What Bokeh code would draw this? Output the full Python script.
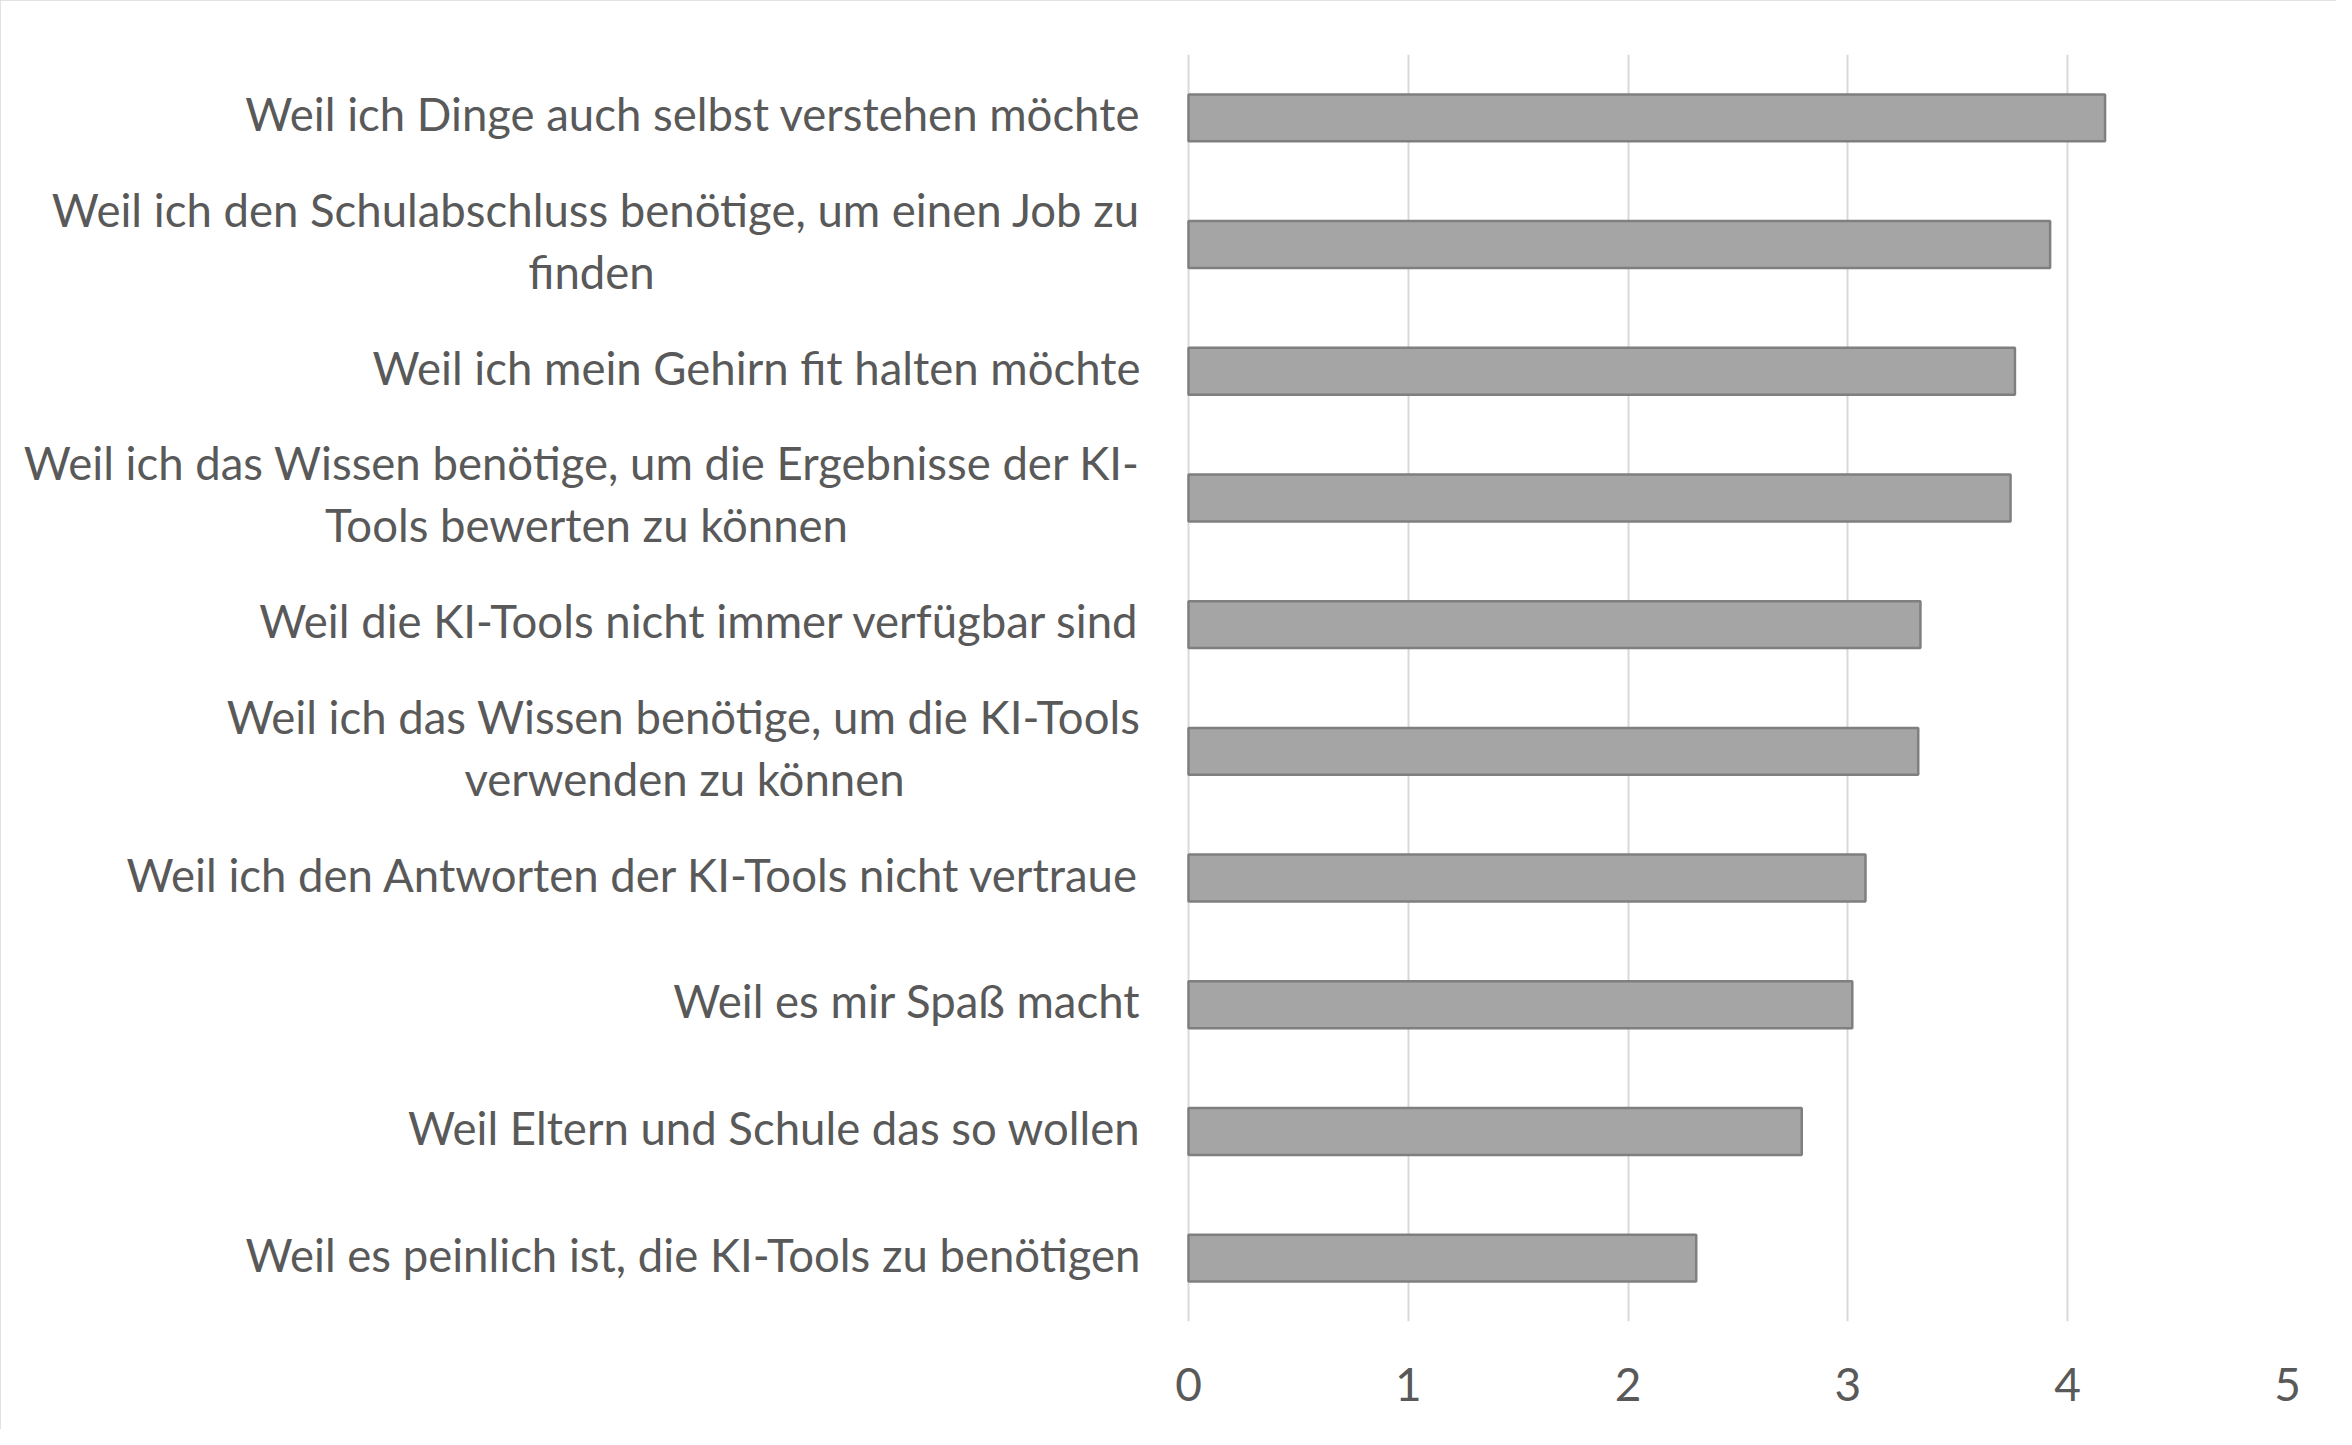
from bokeh.plotting import figure
from bokeh.models import ColumnDataSource, FactorRange, Range1d, FixedTicker
from bokeh.embed import file_html
from bokeh.resources import INLINE
from bokeh.core.properties import value

# ---- data (top to bottom) ----
label_lines = [
    ["Weil ich Dinge auch selbst verstehen möchte"],
    ["Weil ich den Schulabschluss benötige, um einen Job zu", "finden"],
    ["Weil ich mein Gehirn fit halten möchte"],
    ["Weil ich das Wissen benötige, um die Ergebnisse der KI-", "Tools bewerten zu können"],
    ["Weil die KI-Tools nicht immer verfügbar sind"],
    ["Weil ich das Wissen benötige, um die KI-Tools", "verwenden zu können"],
    ["Weil ich den Antworten der KI-Tools nicht vertraue"],
    ["Weil es mir Spaß macht"],
    ["Weil Eltern und Schule das so wollen"],
    ["Weil es peinlich ist, die KI-Tools zu benötigen"],
]
values = [4.17, 3.92, 3.76, 3.74, 3.33, 3.32, 3.08, 3.02, 2.79, 2.31]
x_ticks = [0, 1, 2, 3, 4, 5]

categories = [" ".join(l) for l in label_lines]

FONT = "Lato"
FS = "45.5px"
TXT = "#595959"

W, H = 2336, 1429
FRAME_L, ZERO_PX, FIVE_PX = 2, 1188, 2287
x_start = -(ZERO_PX - FRAME_L) * 5 / (FIVE_PX - ZERO_PX)

p = figure(
    width=W, height=H,
    y_range=FactorRange(factors=list(reversed(categories))),
    x_range=Range1d(x_start, 5),
    output_backend="svg", toolbar_location=None,
    min_border_left=FRAME_L, min_border_right=W - FIVE_PX,
    min_border_top=54, min_border_bottom=H - 1321,
)
p.styles = {"outline": "2px solid #d9d9d9", "outline-offset": "-2px"}
p.outline_line_color = None
p.background_fill_color = "white"
p.border_fill_color = "white"

src = ColumnDataSource(dict(cat=categories, val=values))
p.hbar(y="cat", left=0, right="val", height=0.37, source=src,
       fill_color="#a5a5a5", line_color="#7f7f7f", line_width=2.5)

# grid & axes
p.ygrid.grid_line_color = None
p.xgrid.grid_line_color = "#d9d9d9"
p.xgrid.grid_line_width = 2
p.xgrid.ticker = FixedTicker(ticks=x_ticks)
p.yaxis.visible = False
xa = p.xaxis[0]
xa.ticker = FixedTicker(ticks=x_ticks)
xa.axis_line_color = None
xa.major_tick_line_color = None
xa.minor_tick_line_color = None
xa.major_label_text_font = FONT
xa.major_label_text_font_size = "46px"
xa.major_label_text_color = TXT
xa.major_label_standoff = 40

# category labels (wrapped like the original, lines centred within block)
LINE_GAP = 31
BASE_DY = -4
first_w = {1: 1098, 3: 1108, 5: 912}
r_cat, r_dy, r_txt = [], [], []
c_cat, c_dy, c_txt, c_dx = [], [], [], []
for i, lines in enumerate(label_lines):
    if len(lines) == 1:
        r_cat.append(categories[i]); r_dy.append(BASE_DY); r_txt.append(lines[0])
    else:
        r_cat.append(categories[i]); r_dy.append(BASE_DY - LINE_GAP); r_txt.append(lines[0])
        c_cat.append(categories[i]); c_dy.append(BASE_DY + LINE_GAP); c_txt.append(lines[1])
        c_dx.append(-48 - first_w[i] / 2)

rsrc = ColumnDataSource(dict(x=[0] * len(r_cat), y=r_cat, dy=r_dy, t=r_txt))
csrc = ColumnDataSource(dict(x=[0] * len(c_cat), y=c_cat, dy=c_dy, dx=c_dx, t=c_txt))
p.text(x="x", y="y", text="t", source=rsrc, x_offset=-48, y_offset="dy",
       text_align="right", text_baseline="middle",
       text_font=value(FONT), text_font_size=value(FS), text_color=TXT)
p.text(x="x", y="y", text="t", source=csrc, x_offset="dx", y_offset="dy",
       text_align="center", text_baseline="middle",
       text_font=value(FONT), text_font_size=value(FS), text_color=TXT)

open("out.html", "w").write(file_html(p, INLINE))
